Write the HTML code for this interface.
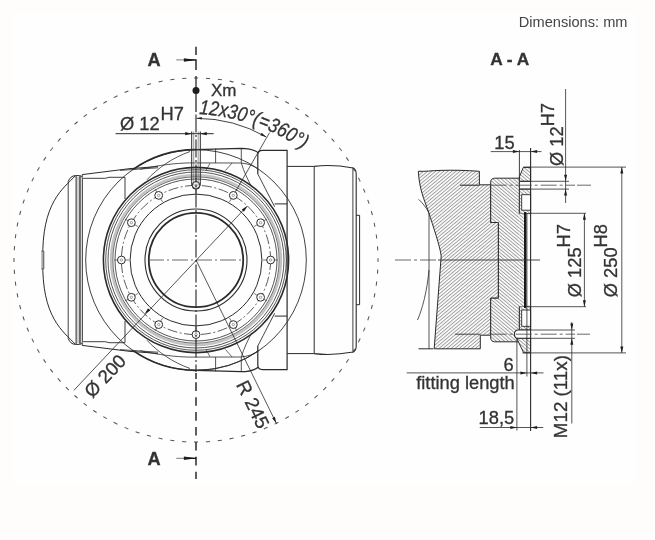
<!DOCTYPE html>
<html><head><meta charset="utf-8"><style>
html,body{margin:0;padding:0;background:#fefdfb;}
svg{display:block;font-family:"Liberation Sans",sans-serif;will-change:transform;}
text{stroke:#333;stroke-width:0.3px;}
</style></head><body>
<svg width="655" height="540" viewBox="0 0 655 540">
<defs>
<pattern id="hatchA" patternUnits="userSpaceOnUse" width="2.6" height="2.6" patternTransform="rotate(50)">
<rect width="2.6" height="2.6" fill="#fefefe"/><rect x="0" y="0" width="0.95" height="2.6" fill="#9c9c9c"/></pattern>
<pattern id="hatchB" patternUnits="userSpaceOnUse" width="2.6" height="2.6" patternTransform="rotate(-50)">
<rect width="2.6" height="2.6" fill="#fefefe"/><rect x="0" y="0" width="0.95" height="2.6" fill="#9c9c9c"/></pattern>
</defs>
<rect width="655" height="540" fill="#fefdfb"/>
<rect x="12" y="13" width="623" height="472" fill="#fefefe"/>
<circle cx="196.0" cy="260.0" r="182" fill="none" stroke="#555" stroke-width="1.05" stroke-dasharray="4.1 7.811" stroke-dashoffset="2.2"/>
<path d="M75.4,175.7 C63.5,188.5 41.5,201.9 42.8,260 C41.5,318.1 63.5,331.5 75.4,344.3" fill="none" stroke="#2b2b2b" stroke-width="1.0" />
<path d="M41.3,251 L43.8,251 L43.8,269 L41.3,269" fill="#aaa" stroke="#555" stroke-width="0.9" />
<line x1="68.20" y1="181.50" x2="68.20" y2="338.50" stroke="#2b2b2b" stroke-width="0.9"/>
<path d="M68.2,181.5 C69.5,178 72,175.6 75.5,175.6 L79.5,175.6 C81.2,175.6 82.3,176.6 82.3,178.5 L82.3,341.5 C82.3,343.4 81.2,344.4 79.5,344.4 L75.5,344.4 C72,344.4 69.5,342 68.2,338.5" fill="none" stroke="#2b2b2b" stroke-width="1.0" />
<rect x="76.4" y="177" width="3.4" height="166" fill="#d0d0d0"/>
<line x1="76.10" y1="176.00" x2="76.10" y2="344.00" stroke="#2b2b2b" stroke-width="1.0"/>
<line x1="80.00" y1="176.00" x2="80.00" y2="344.00" stroke="#2b2b2b" stroke-width="1.3"/>
<path d="M82.2,177 L82.2,174.6 L130,168.6 L158,166.6" fill="none" stroke="#2b2b2b" stroke-width="1.0" />
<path d="M82.2,343 L82.2,345.4 L130,351.4 L158,353.4" fill="none" stroke="#2b2b2b" stroke-width="1.0" />
<path d="M120,170.4 L158,167.8" fill="none" stroke="#2b2b2b" stroke-width="0.8" />
<path d="M120,349.6 L158,352.2" fill="none" stroke="#2b2b2b" stroke-width="0.8" />
<path d="M82.8,178.3 L105.5,178.3 L109,177.3 L125,177.3" fill="none" stroke="#2b2b2b" stroke-width="0.9" />
<path d="M82.8,341.7 L105.5,341.7 L109,342.7 L125,342.7" fill="none" stroke="#2b2b2b" stroke-width="0.9" />
<line x1="125.00" y1="177.30" x2="125.00" y2="199.00" stroke="#2b2b2b" stroke-width="0.9"/>
<line x1="125.00" y1="321.00" x2="125.00" y2="342.70" stroke="#2b2b2b" stroke-width="0.9"/>
<circle cx="196.0" cy="260.0" r="110.3" fill="none" stroke="#2b2b2b" stroke-width="0.9"/>
<path d="M132.73,169.65 A110.3,110.3 0 0 1 196.00,149.70" fill="none" stroke="#2b2b2b" stroke-width="1.7"/>
<path d="M196.00,370.30 A110.3,110.3 0 0 1 132.73,350.35" fill="none" stroke="#2b2b2b" stroke-width="1.7"/>
<path d="M259.27,350.35 A110.3,110.3 0 0 1 196.00,370.30" fill="none" stroke="#2b2b2b" stroke-width="0.9"/>
<path d="M196,149.7 L241,148.3 C249,148.3 255,150 258.5,153" fill="none" stroke="#2b2b2b" stroke-width="1.3" />
<path d="M196,370.3 L241,371.7 C249,371.7 255,370 258.5,367" fill="none" stroke="#2b2b2b" stroke-width="1.3" />
<line x1="215.60" y1="148.60" x2="215.60" y2="163.00" stroke="#2b2b2b" stroke-width="0.8"/>
<line x1="215.60" y1="357.00" x2="215.60" y2="371.40" stroke="#2b2b2b" stroke-width="0.8"/>
<path d="M241.3,148.4 L241.3,163 C244,172 248,180 251.7,187.2" fill="none" stroke="#2b2b2b" stroke-width="0.8" />
<path d="M241.3,371.6 L241.3,357 C244,348 248,340 251.7,332.8" fill="none" stroke="#2b2b2b" stroke-width="0.8" />
<path d="M140,169.3 C160,165 175,163.2 189.5,162.9 L240.8,163 C248,163.6 254,165.6 258.4,169.5" fill="none" stroke="#2b2b2b" stroke-width="0.8" />
<path d="M140,350.7 C160,355 175,356.8 189.5,357.1 L240.8,357 C248,356.4 254,354.4 258.4,350.5" fill="none" stroke="#2b2b2b" stroke-width="0.8" />
<path d="M190,151.5 C172,158 158,168 146.9,179.8" fill="none" stroke="#2b2b2b" stroke-width="0.8" />
<path d="M190,368.5 C172,362 158,352 146.9,340.2" fill="none" stroke="#2b2b2b" stroke-width="0.8" />
<line x1="225.30" y1="170.60" x2="232.20" y2="162.90" stroke="#2b2b2b" stroke-width="0.7"/>
<line x1="225.30" y1="349.40" x2="232.20" y2="357.10" stroke="#2b2b2b" stroke-width="0.7"/>
<line x1="206.00" y1="170.50" x2="210.00" y2="163.30" stroke="#2b2b2b" stroke-width="0.7"/>
<line x1="206.00" y1="349.50" x2="210.00" y2="356.70" stroke="#2b2b2b" stroke-width="0.7"/>
<circle cx="196.0" cy="260.0" r="92.6" fill="none" stroke="#2b2b2b" stroke-width="1.6"/>
<circle cx="196.0" cy="260.0" r="90.3" fill="none" stroke="#2b2b2b" stroke-width="0.8"/>
<circle cx="196.0" cy="260.0" r="88.0" fill="none" stroke="#2b2b2b" stroke-width="0.8"/>
<circle cx="196.0" cy="260.0" r="85.0" fill="none" stroke="#c2c2c2" stroke-width="2.4"/>
<circle cx="196.0" cy="260.0" r="83.2" fill="none" stroke="#2b2b2b" stroke-width="0.7"/>
<circle cx="196.0" cy="260.0" r="81.0" fill="none" stroke="#2b2b2b" stroke-width="0.8"/>
<circle cx="196.0" cy="260.0" r="74.6" fill="none" stroke="#333" stroke-width="0.8" stroke-dasharray="10 2.5 2 2.5"/>
<circle cx="196.0" cy="260.0" r="65.9" fill="none" stroke="#2b2b2b" stroke-width="1.0"/>
<circle cx="196.0" cy="260.0" r="51.0" fill="none" stroke="#2b2b2b" stroke-width="1.1"/>
<circle cx="196.0" cy="260.0" r="47.2" fill="none" stroke="#2b2b2b" stroke-width="1.8"/>
<line x1="196.00" y1="193.00" x2="196.00" y2="178.00" stroke="#444" stroke-width="0.7"/>
<circle cx="196.00" cy="185.40" r="3.9" fill="#fefefe" stroke="#2b2b2b" stroke-width="1.0"/>
<circle cx="196.00" cy="185.40" r="1.2" fill="none" stroke="#666" stroke-width="0.6"/>
<line x1="229.50" y1="201.98" x2="237.00" y2="188.99" stroke="#444" stroke-width="0.7"/>
<circle cx="233.30" cy="195.39" r="3.9" fill="#fefefe" stroke="#2b2b2b" stroke-width="1.0"/>
<circle cx="233.30" cy="195.39" r="1.2" fill="none" stroke="#666" stroke-width="0.6"/>
<line x1="254.02" y1="226.50" x2="267.01" y2="219.00" stroke="#444" stroke-width="0.7"/>
<circle cx="260.61" cy="222.70" r="3.9" fill="#fefefe" stroke="#2b2b2b" stroke-width="1.0"/>
<circle cx="260.61" cy="222.70" r="1.2" fill="none" stroke="#666" stroke-width="0.6"/>
<line x1="263.00" y1="260.00" x2="278.00" y2="260.00" stroke="#444" stroke-width="0.7"/>
<circle cx="270.60" cy="260.00" r="3.9" fill="#fefefe" stroke="#2b2b2b" stroke-width="1.0"/>
<circle cx="270.60" cy="260.00" r="1.2" fill="none" stroke="#666" stroke-width="0.6"/>
<line x1="254.02" y1="293.50" x2="267.01" y2="301.00" stroke="#444" stroke-width="0.7"/>
<circle cx="260.61" cy="297.30" r="3.9" fill="#fefefe" stroke="#2b2b2b" stroke-width="1.0"/>
<circle cx="260.61" cy="297.30" r="1.2" fill="none" stroke="#666" stroke-width="0.6"/>
<line x1="229.50" y1="318.02" x2="237.00" y2="331.01" stroke="#444" stroke-width="0.7"/>
<circle cx="233.30" cy="324.61" r="3.9" fill="#fefefe" stroke="#2b2b2b" stroke-width="1.0"/>
<circle cx="233.30" cy="324.61" r="1.2" fill="none" stroke="#666" stroke-width="0.6"/>
<line x1="196.00" y1="327.00" x2="196.00" y2="342.00" stroke="#444" stroke-width="0.7"/>
<circle cx="196.00" cy="334.60" r="3.9" fill="#fefefe" stroke="#2b2b2b" stroke-width="1.0"/>
<circle cx="196.00" cy="334.60" r="1.2" fill="none" stroke="#666" stroke-width="0.6"/>
<line x1="162.50" y1="318.02" x2="155.00" y2="331.01" stroke="#444" stroke-width="0.7"/>
<circle cx="158.70" cy="324.61" r="3.9" fill="#fefefe" stroke="#2b2b2b" stroke-width="1.0"/>
<circle cx="158.70" cy="324.61" r="1.2" fill="none" stroke="#666" stroke-width="0.6"/>
<line x1="137.98" y1="293.50" x2="124.99" y2="301.00" stroke="#444" stroke-width="0.7"/>
<circle cx="131.39" cy="297.30" r="3.9" fill="#fefefe" stroke="#2b2b2b" stroke-width="1.0"/>
<circle cx="131.39" cy="297.30" r="1.2" fill="none" stroke="#666" stroke-width="0.6"/>
<line x1="129.00" y1="260.00" x2="114.00" y2="260.00" stroke="#444" stroke-width="0.7"/>
<circle cx="121.40" cy="260.00" r="3.9" fill="#fefefe" stroke="#2b2b2b" stroke-width="1.0"/>
<circle cx="121.40" cy="260.00" r="1.2" fill="none" stroke="#666" stroke-width="0.6"/>
<line x1="137.98" y1="226.50" x2="124.99" y2="219.00" stroke="#444" stroke-width="0.7"/>
<circle cx="131.39" cy="222.70" r="3.9" fill="#fefefe" stroke="#2b2b2b" stroke-width="1.0"/>
<circle cx="131.39" cy="222.70" r="1.2" fill="none" stroke="#666" stroke-width="0.6"/>
<line x1="162.50" y1="201.98" x2="155.00" y2="188.99" stroke="#444" stroke-width="0.7"/>
<circle cx="158.70" cy="195.39" r="3.9" fill="#fefefe" stroke="#2b2b2b" stroke-width="1.0"/>
<circle cx="158.70" cy="195.39" r="1.2" fill="none" stroke="#666" stroke-width="0.6"/>
<line x1="191.70" y1="131.50" x2="191.70" y2="184.00" stroke="#2b2b2b" stroke-width="1.0"/>
<line x1="200.30" y1="131.50" x2="200.30" y2="184.00" stroke="#2b2b2b" stroke-width="1.0"/>
<path d="M191.7,184 A4.3,4.3 0 0 0 200.3,184" fill="none" stroke="#2b2b2b" stroke-width="1.0" />
<line x1="193.70" y1="131.50" x2="193.70" y2="185.50" stroke="#555" stroke-width="0.6"/>
<line x1="198.20" y1="131.50" x2="198.20" y2="185.50" stroke="#555" stroke-width="0.6"/>
<line x1="148.00" y1="260.00" x2="244.00" y2="260.00" stroke="#444" stroke-width="0.8" stroke-dasharray="16 3 2 3"/>
<line x1="196.00" y1="46.70" x2="196.00" y2="55.00" stroke="#2a2a2a" stroke-width="1.5"/>
<line x1="196.00" y1="59.40" x2="196.00" y2="70.00" stroke="#2a2a2a" stroke-width="1.5"/>
<line x1="196.00" y1="76.00" x2="196.00" y2="112.00" stroke="#2a2a2a" stroke-width="1.3"/>
<line x1="196.00" y1="114.50" x2="196.00" y2="372.00" stroke="#2a2a2a" stroke-width="1.15" stroke-dasharray="18 2.5 2 2.5"/>
<line x1="196.00" y1="382.30" x2="196.00" y2="479.00" stroke="#2a2a2a" stroke-width="1.5" stroke-dasharray="8.6 6.3"/>
<line x1="196.00" y1="373.00" x2="196.00" y2="379.00" stroke="#2a2a2a" stroke-width="1.5"/>
<path d="M257.8,174 L257.8,155 C257.8,152 259.5,150.4 262.5,150.4 L287.1,150.4 L287.1,369.6 L262.5,369.6 C259.5,369.6 257.8,368 257.8,365 L257.8,346" fill="none" stroke="#2b2b2b" stroke-width="1.2" />
<path d="M257.8,174 C262,182 268,194 274.6,206.7" fill="none" stroke="#2b2b2b" stroke-width="0.9" />
<path d="M257.8,346 C262,338 268,326 274.6,313.3" fill="none" stroke="#2b2b2b" stroke-width="0.9" />
<line x1="274.60" y1="203.90" x2="287.10" y2="203.90" stroke="#2b2b2b" stroke-width="1.0"/>
<line x1="274.60" y1="316.10" x2="287.10" y2="316.10" stroke="#2b2b2b" stroke-width="1.0"/>
<path d="M287.1,166.4 L314.2,166.4 L314.2,353.6 L287.1,353.6" fill="none" stroke="#2b2b2b" stroke-width="1.0" />
<path d="M314.2,166.4 C328,164.6 342,166 353.2,168 C355.4,169 356.2,171 356.2,174 L356.2,346 C356.2,349 355.4,351 353.2,352 C342,354 328,355.4 314.2,353.6" fill="none" stroke="#2b2b2b" stroke-width="1.1" />
<line x1="352.90" y1="168.50" x2="352.90" y2="351.50" stroke="#2b2b2b" stroke-width="0.9"/>
<path d="M356.2,215.3 L359.6,215.3 L359.6,304.7 L356.2,304.7" fill="none" stroke="#2b2b2b" stroke-width="1.0" />
<circle cx="196.0" cy="90.5" r="3.5" fill="#1e1e1e"/>
<text x="211" y="96.3" font-size="17" fill="#333" text-anchor="start" font-weight="normal" font-style="normal" >Xm</text>
<text x="147.4" y="66" font-size="18.2" fill="#333" text-anchor="start" font-weight="bold" font-style="normal" >A</text>
<text x="147.4" y="465.1" font-size="18.2" fill="#333" text-anchor="start" font-weight="bold" font-style="normal" >A</text>
<line x1="176.30" y1="59.90" x2="188.00" y2="59.90" stroke="#777" stroke-width="1.0"/>
<path d="M196.20,59.90 L183.90,61.65 L183.90,58.15 Z" fill="#1e1e1e" stroke="none"/>
<line x1="188.00" y1="59.90" x2="196.20" y2="59.90" stroke="#111" stroke-width="1.3"/>
<line x1="176.30" y1="458.30" x2="188.00" y2="458.30" stroke="#777" stroke-width="1.0"/>
<path d="M196.20,458.30 L183.90,460.05 L183.90,456.55 Z" fill="#1e1e1e" stroke="none"/>
<line x1="188.00" y1="458.30" x2="196.20" y2="458.30" stroke="#111" stroke-width="1.3"/>
<line x1="115.60" y1="133.70" x2="213.70" y2="133.70" stroke="#2b2b2b" stroke-width="1.0"/>
<path d="M191.70,133.70 L185.20,135.30 L185.20,132.10 Z" fill="#1e1e1e" stroke="none"/>
<path d="M200.30,133.70 L206.80,132.10 L206.80,135.30 Z" fill="#1e1e1e" stroke="none"/>
<text x="120" y="129.8" font-size="18.3" fill="#333" text-anchor="start" font-weight="normal" font-style="normal" >Ø 12</text>
<text x="160.6" y="120.3" font-size="18.3" fill="#333" text-anchor="start" font-weight="normal" font-style="normal" >H7</text>
<path d="M196.74,118.30 A141.7,141.7 0 0 1 266.21,136.91" fill="none" stroke="#2b2b2b" stroke-width="0.9"/>
<path d="M196.74,118.30 L201.74,117.10 L201.74,119.50 Z" fill="#1e1e1e" stroke="none"/>
<path d="M266.21,136.91 L260.31,135.13 L261.71,132.70 Z" fill="#1e1e1e" stroke="none"/>
<line x1="236.00" y1="190.72" x2="269.50" y2="132.69" stroke="#2b2b2b" stroke-width="0.8"/>
<path id="tarc" d="M199.11,114.01 A208.8,208.8 0 0 1 366.83,218.00" fill="none"/>
<text font-size="20.5" fill="#333" font-style="italic"><textPath href="#tarc" textLength="111" lengthAdjust="spacingAndGlyphs">12x30°(=360°)</textPath></text>
<line x1="247.35" y1="205.89" x2="73.90" y2="390.30" stroke="#2b2b2b" stroke-width="0.8"/>
<path d="M247.35,205.89 L243.97,211.63 L241.79,209.57 Z" fill="#1e1e1e" stroke="none"/>
<path d="M144.65,314.11 L148.03,308.37 L150.21,310.43 Z" fill="#1e1e1e" stroke="none"/>
<text transform="translate(92.3,398.8) rotate(-46.5)" font-size="18.6" fill="#333">Ø 200</text>
<line x1="196.00" y1="260.00" x2="276.35" y2="423.30" stroke="#2b2b2b" stroke-width="0.8"/>
<path d="M276.35,423.30 L272.14,418.13 L274.83,416.81 Z" fill="#1e1e1e" stroke="none"/>
<text transform="translate(235.8,384.6) rotate(63.8)" font-size="19" fill="#333">R 245</text>
<path d="M418.3,171.3 C425,171.6 432,170.6 440,170.4 C455,170 465,170.3 479.4,171.3 L479.4,171.3 L479.4,184.8 L490.7,184.8 L490.7,222.5 L498.4,222.5 L498.4,298.2 L490.7,298.2 L490.7,335.2 L480.3,335.2 L480.3,348.8 L434.2,348.8 L441.2,256 C440,246 433,226 428.7,212.4 C424,199 419.5,190 418.3,171.3 Z" fill="url(#hatchA)" stroke="none"/>
<path d="M418.3,171.3 C425,171.6 432,170.6 440,170.4 C455,170 465,170.3 479.4,171.3" fill="none" stroke="#2b2b2b" stroke-width="1.0"/>
<path d="M479.4,171.3 L479.4,184.8 L490.7,184.8 L490.7,222.5 L498.4,222.5 L498.4,298.2 L490.7,298.2 L490.7,335.2 L480.3,335.2 L480.3,348.8 L434.2,348.8 L441.2,256 C440,246 433,226 428.7,212.4 C424,199 419.5,190 418.3,171.3" fill="none" stroke="#2b2b2b" stroke-width="1.0"/>
<path d="M494.5,178.2 L519.4,178.2 L519.4,341.8 L494.5,341.8 C492.3,341.8 490.7,340.2 490.7,338 L490.7,298.2 L498.4,298.2 L498.4,222.5 L490.7,222.5 L490.7,182 C490.7,179.8 492.3,178.2 494.5,178.2 Z" fill="url(#hatchB)" stroke="none"/>
<path d="M519.4,213.6 L519.4,178.2 L494.5,178.2 C492.3,178.2 490.7,179.8 490.7,182 L490.7,222.5 L498.4,222.5 L498.4,298.2 L490.7,298.2 L490.7,338 C490.7,340.2 492.3,341.8 494.5,341.8 L519.4,341.8 L519.4,306.4" fill="none" stroke="#2b2b2b" stroke-width="1.0"/>
<line x1="429.00" y1="213.00" x2="429.00" y2="348.80" stroke="#2b2b2b" stroke-width="0.8"/>
<path d="M418.6,199.3 C422.5,203 426,207 429,213" fill="none" stroke="#2b2b2b" stroke-width="0.8" />
<path d="M417.5,320 C422,310 427,292 429,270" fill="none" stroke="#2b2b2b" stroke-width="0.8" />
<line x1="418.50" y1="348.80" x2="433.40" y2="348.80" stroke="#2b2b2b" stroke-width="1.0"/>
<path d="M523.3,167.4 L530.6,167.4 L530.6,181.3 L519.4,181.3 L519.4,176.9 Z" fill="url(#hatchB)" stroke="#2b2b2b" stroke-width="1.0"/>
<path d="M519.4,189.1 L530.6,189.1 L530.6,213.6 L519.4,213.6 Z" fill="url(#hatchB)" stroke="#2b2b2b" stroke-width="0.9"/>
<rect x="521.7" y="194.7" width="8.9" height="15.5" fill="#fefefe" stroke="#2b2b2b" stroke-width="0.9"/>
<path d="M519.4,306.4 L530.6,306.4 L530.6,330 L519.4,330 Z" fill="url(#hatchB)" stroke="#2b2b2b" stroke-width="0.9"/>
<rect x="521.7" y="310" width="8.9" height="16.3" fill="#fefefe" stroke="#2b2b2b" stroke-width="0.9"/>
<path d="M516.7,338.3 L530.6,338.3 L530.6,352.8 L523.7,352.8 Z" fill="url(#hatchB)" stroke="#2b2b2b" stroke-width="1.0"/>
<path d="M530.6,330 L518.2,330 C515.6,330 514.4,332 514.4,334.15 C514.4,336.3 515.6,338.3 518.2,338.3 L530.6,338.3" fill="#fefefe" stroke="#2b2b2b" stroke-width="1.1" />
<rect x="519.4" y="213.6" width="4.5" height="92.8" fill="url(#hatchB)" stroke="none"/>
<line x1="525.20" y1="212.00" x2="525.20" y2="308.00" stroke="#1a1a1a" stroke-width="2.4"/>
<line x1="526.90" y1="213.60" x2="526.90" y2="376.50" stroke="#2b2b2b" stroke-width="0.8"/>
<line x1="530.60" y1="148.00" x2="530.60" y2="431.00" stroke="#2b2b2b" stroke-width="1.1"/>
<line x1="519.40" y1="150.00" x2="519.40" y2="178.20" stroke="#2b2b2b" stroke-width="0.9"/>
<line x1="395.00" y1="260.00" x2="437.00" y2="260.00" stroke="#444" stroke-width="0.8" stroke-dasharray="16 3 3 3"/>
<line x1="438.00" y1="260.00" x2="540.00" y2="260.00" stroke="#333" stroke-width="0.9"/>
<line x1="460.00" y1="185.20" x2="479.40" y2="185.20" stroke="#222" stroke-width="1.0"/>
<line x1="490.70" y1="185.20" x2="575.00" y2="185.20" stroke="#444" stroke-width="0.8" stroke-dasharray="16 3 3 3"/>
<line x1="577.00" y1="185.20" x2="591.00" y2="185.20" stroke="#444" stroke-width="0.8"/>
<line x1="455.00" y1="334.20" x2="480.30" y2="334.20" stroke="#333" stroke-width="0.9"/>
<line x1="490.70" y1="334.20" x2="575.00" y2="334.20" stroke="#444" stroke-width="0.8" stroke-dasharray="16 3 3 3"/>
<line x1="577.00" y1="334.20" x2="590.00" y2="334.20" stroke="#444" stroke-width="0.8"/>
<line x1="519.40" y1="181.30" x2="569.00" y2="181.30" stroke="#2b2b2b" stroke-width="0.8"/>
<line x1="519.40" y1="189.10" x2="569.00" y2="189.10" stroke="#2b2b2b" stroke-width="0.8"/>
<line x1="530.60" y1="330.00" x2="575.00" y2="330.00" stroke="#2b2b2b" stroke-width="0.8"/>
<line x1="530.60" y1="338.30" x2="575.00" y2="338.30" stroke="#2b2b2b" stroke-width="0.8"/>
<line x1="523.30" y1="167.10" x2="626.00" y2="167.10" stroke="#2b2b2b" stroke-width="0.8"/>
<line x1="522.30" y1="352.90" x2="626.00" y2="352.90" stroke="#2b2b2b" stroke-width="0.8"/>
<line x1="530.60" y1="213.30" x2="586.00" y2="213.30" stroke="#2b2b2b" stroke-width="0.8"/>
<line x1="530.60" y1="306.70" x2="586.00" y2="306.70" stroke="#2b2b2b" stroke-width="0.8"/>
<line x1="584.40" y1="213.30" x2="584.40" y2="306.70" stroke="#2b2b2b" stroke-width="0.8"/>
<path d="M584.40,213.30 L585.90,219.80 L582.90,219.80 Z" fill="#1e1e1e" stroke="none"/>
<path d="M584.40,306.70 L582.90,300.20 L585.90,300.20 Z" fill="#1e1e1e" stroke="none"/>
<line x1="621.80" y1="167.10" x2="621.80" y2="352.90" stroke="#2b2b2b" stroke-width="0.8"/>
<path d="M621.80,167.10 L623.30,173.60 L620.30,173.60 Z" fill="#1e1e1e" stroke="none"/>
<path d="M621.80,352.90 L620.30,346.40 L623.30,346.40 Z" fill="#1e1e1e" stroke="none"/>
<line x1="565.60" y1="89.00" x2="565.60" y2="203.00" stroke="#2b2b2b" stroke-width="0.8"/>
<path d="M565.60,181.30 L564.10,174.80 L567.10,174.80 Z" fill="#1e1e1e" stroke="none"/>
<path d="M565.60,189.10 L567.10,195.60 L564.10,195.60 Z" fill="#1e1e1e" stroke="none"/>
<line x1="571.80" y1="322.00" x2="571.80" y2="423.50" stroke="#2b2b2b" stroke-width="0.8"/>
<path d="M571.80,330.00 L570.30,323.50 L573.30,323.50 Z" fill="#1e1e1e" stroke="none"/>
<path d="M571.80,338.30 L573.30,344.80 L570.30,344.80 Z" fill="#1e1e1e" stroke="none"/>
<line x1="490.70" y1="151.60" x2="541.50" y2="151.60" stroke="#2b2b2b" stroke-width="0.8"/>
<path d="M519.40,151.60 L512.90,153.10 L512.90,150.10 Z" fill="#1e1e1e" stroke="none"/>
<path d="M530.60,151.60 L537.10,150.10 L537.10,153.10 Z" fill="#1e1e1e" stroke="none"/>
<text x="494.3" y="148.8" font-size="18.3" fill="#333" text-anchor="start" font-weight="normal" font-style="normal" >15</text>
<line x1="406.70" y1="372.90" x2="543.50" y2="372.90" stroke="#2b2b2b" stroke-width="0.8"/>
<path d="M526.90,372.90 L520.40,374.40 L520.40,371.40 Z" fill="#1e1e1e" stroke="none"/>
<path d="M530.60,372.90 L537.10,371.40 L537.10,374.40 Z" fill="#1e1e1e" stroke="none"/>
<line x1="516.90" y1="338.30" x2="516.90" y2="430.50" stroke="#2b2b2b" stroke-width="0.8"/>
<text x="503.6" y="371.4" font-size="18.3" fill="#333" text-anchor="start" font-weight="normal" font-style="normal" >6</text>
<text x="416.2" y="389.4" font-size="18.3" fill="#333" text-anchor="start" font-weight="normal" font-style="normal" >fitting length</text>
<line x1="479.80" y1="427.50" x2="543.30" y2="427.50" stroke="#2b2b2b" stroke-width="0.8"/>
<path d="M516.90,427.50 L510.40,429.00 L510.40,426.00 Z" fill="#1e1e1e" stroke="none"/>
<path d="M530.60,427.50 L537.10,426.00 L537.10,429.00 Z" fill="#1e1e1e" stroke="none"/>
<text x="478.6" y="423.5" font-size="18.3" fill="#333" text-anchor="start" font-weight="normal" font-style="normal" >18,5</text>
<text transform="translate(563.3,166) rotate(-90)" font-size="18.3" fill="#333">Ø 12<tspan dy="-9.5">H7</tspan></text>
<text transform="translate(580.5,297.2) rotate(-90)" font-size="18.3" fill="#333">Ø 125<tspan dy="-10.2">H7</tspan></text>
<text transform="translate(617.2,297.2) rotate(-90)" font-size="18.3" fill="#333">Ø 250<tspan dy="-10.2">H8</tspan></text>
<text transform="translate(566.7,438.2) rotate(-90)" font-size="18.8" fill="#333">M12 (11x)</text>
<text x="490.2" y="64.8" font-size="17.3" fill="#333" text-anchor="start" font-weight="bold" font-style="normal" >A - A</text>
<text x="518.8" y="27.0" font-size="14.6" fill="#444" text-anchor="start" font-weight="normal" font-style="normal" style="stroke:none">Dimensions: mm</text>
</svg>
</body></html>
